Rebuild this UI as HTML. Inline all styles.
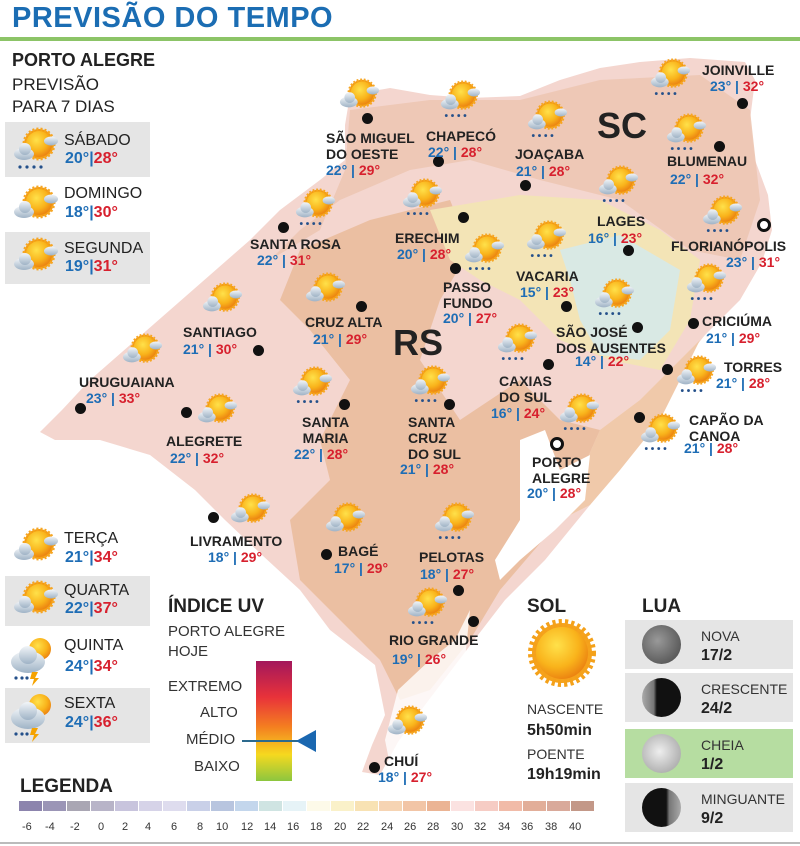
<!DOCTYPE html>
<html><head><meta charset="utf-8">
<style>
*{margin:0;padding:0;box-sizing:border-box}
body{width:800px;height:846px;background:#fff;position:relative;overflow:hidden;font-family:"Liberation Sans",sans-serif;color:#222}
.a{position:absolute;white-space:nowrap}
.t{font-weight:bold;font-size:29px;color:#1b6db3;letter-spacing:0.5px}
.c{font-weight:bold;font-size:14px;line-height:16px;color:#222}
.tp{font-weight:bold;font-size:14px;color:#1e6db5}
.tp b{color:#d7202e}
.day{position:absolute;left:5px;width:145px;background:#e5e5e5}
.dn{font-size:16px;color:#222}
.dt{font-size:16px;font-weight:bold;color:#1e6db5}
.dt b{color:#d7202e}
.dot{position:absolute;width:11px;height:11px;border-radius:50%;background:#111}
.mp{position:absolute;left:625px;width:168px;height:49px;background:#e5e5e5}
.moon{position:absolute;left:17px;top:5px;width:39px;height:39px;border-radius:50%;background:radial-gradient(circle at 40% 40%,#999,#444)}
.ml{position:absolute;left:76px;top:8px;font-size:14px;color:#333}
.mv{position:absolute;left:76px;top:27px;font-size:16px;font-weight:bold;color:#222}
</style></head><body>
<svg width="0" height="0" style="position:absolute">
<defs>
<radialGradient id="sg" cx="40%" cy="35%" r="70%"><stop offset="0" stop-color="#ffe14a"/><stop offset="0.6" stop-color="#f9b31b"/><stop offset="1" stop-color="#ea7e10"/></radialGradient>
<linearGradient id="cg" x1="0" y1="0" x2="0" y2="1"><stop offset="0" stop-color="#f2f5f8"/><stop offset="1" stop-color="#9fb3c6"/></linearGradient>
<symbol id="sun" viewBox="0 0 50 45">
<circle cx="28" cy="17" r="15" fill="#f39c12" stroke="#f6a623" stroke-width="3" stroke-dasharray="2 2"/>
<circle cx="28" cy="17" r="13" fill="url(#sg)"/>
<ellipse cx="40" cy="14" rx="7" ry="4.5" fill="url(#cg)"/>
<ellipse cx="13" cy="27" rx="10" ry="6" fill="url(#cg)"/><circle cx="14" cy="22" r="6" fill="url(#cg)"/>
</symbol>
<symbol id="rain" viewBox="0 0 50 45">
<use href="#sun" width="50" height="45"/>
<g fill="#24508a"><circle cx="9" cy="40" r="1.6"/><circle cx="16" cy="40" r="1.6"/><circle cx="23" cy="40" r="1.6"/><circle cx="30" cy="40" r="1.6"/></g>
</symbol>
<symbol id="storm" viewBox="0 0 50 50">
<circle cx="32" cy="13" r="11" fill="url(#sg)"/>
<ellipse cx="20" cy="26" rx="17" ry="11" fill="url(#cg)"/><circle cx="20" cy="19" r="9" fill="url(#cg)"/>
<polygon points="24,36 30,36 27,42 31,42 24,50 26,43 22,43" fill="#f5a300"/>
<g fill="#24508a"><circle cx="8" cy="42" r="1.6"/><circle cx="14" cy="42" r="1.6"/><circle cx="19" cy="42" r="1.6"/></g>
</symbol>
</defs></svg>

<div class="a t" style="left:12px;top:2px">PREVISÃO DO TEMPO</div>
<div class="a" style="left:0;top:37px;width:800px;height:4px;background:#8cc467"></div>

<!-- MAP -->
<svg class="a" style="left:0;top:0" width="800" height="846">
<path d="M350,95 L390,88 L430,95 L470,98 L520,96 L560,80 L600,68 L640,62 L690,58 L745,62 L755,80 L750,120 L755,160 L768,195 L772,230 L762,262 L740,300 L705,335 L675,372 L648,415 L620,460 L590,505 L545,560 L505,600 L478,635 L450,672 L425,705 L398,742 L380,775 L362,772 L372,745 L385,715 L380,690 L375,665 L330,630 L300,590 L262,555 L225,520 L195,490 L150,455 L100,440 L55,440 L40,432 L62,410 L90,380 L130,345 L170,310 L210,275 L250,240 L280,210 L320,180 L345,160 L345,125 Z" fill="#f4d6cf"/>
<path d="M350,110 L430,100 L520,100 L600,80 L700,75 L750,110 L760,200 L740,260 L690,250 L620,200 L540,180 L470,160 L410,170 L340,200 L300,230 L270,260 L320,230 L345,170 Z" fill="#edc6b2" opacity="0.9"/>
<path d="M300,250 L370,220 L450,200 L470,250 L440,300 L420,360 L460,420 L520,380 L560,420 L600,430 L560,520 L500,590 L470,640 L430,690 L400,700 L380,660 L340,620 L300,580 L290,520 L330,480 L320,440 L350,380 L310,330 L280,300 Z" fill="#ebbfa2"/>
<path d="M600,430 L640,400 L680,360 L700,340 L660,420 L620,470 L590,505 L560,520 Z" fill="#f0c9aa"/>
<path d="M430,210 L520,195 L600,200 L660,230 L700,260 L690,320 L660,370 L610,360 L560,340 L520,300 L480,280 L450,260 Z" fill="#f3e4b6"/>
<path d="M560,250 L620,235 L680,270 L670,330 L640,360 L600,355 L580,320 L570,280 Z" fill="#d9e9e4"/>
<path d="M520,440 L545,430 L560,470 L590,455 L585,500 L555,530 L520,560 L500,580 L495,560 L520,520 Z" fill="#fff"/>
<path d="M398,690 L430,660 L455,640 L470,610 L465,660 L440,690 L410,730 L390,765 L385,740 Z" fill="#fff" opacity="0.8"/>
</svg>
<div class="a" style="left:597px;top:105px;font-size:36px;font-weight:bold;color:#222">SC</div>
<div class="a" style="left:393px;top:322px;font-size:36px;font-weight:bold;color:#222">RS</div>

<!-- cities -->
<div class="dot" style="left:362px;top:113px"></div>
<div class="a c" style="left:326px;top:130px">SÃO MIGUEL<br>DO OESTE</div><div class="a tp" style="left:326px;top:162px">22° | <b>29°</b></div>
<svg class="a" style="left:337px;top:78px" width="45" height="40"><use href="#sun"/></svg>

<div class="dot" style="left:433px;top:156px"></div>
<div class="a c" style="left:426px;top:128px">CHAPECÓ</div><div class="a tp" style="left:428px;top:144px">22° | <b>28°</b></div>
<svg class="a" style="left:438px;top:80px" width="45" height="40"><use href="#rain"/></svg>

<div class="dot" style="left:520px;top:180px"></div>
<div class="a c" style="left:515px;top:146px">JOAÇABA</div><div class="a tp" style="left:516px;top:163px">21° | <b>28°</b></div>
<svg class="a" style="left:525px;top:100px" width="45" height="40"><use href="#rain"/></svg>

<div class="dot" style="left:737px;top:98px"></div>
<div class="a c" style="left:702px;top:62px">JOINVILLE</div><div class="a tp" style="left:710px;top:78px">23° | <b>32°</b></div>
<svg class="a" style="left:648px;top:58px" width="45" height="40"><use href="#rain"/></svg>

<div class="dot" style="left:714px;top:141px"></div>
<div class="a c" style="left:667px;top:153px">BLUMENAU</div><div class="a tp" style="left:670px;top:171px">22° | <b>32°</b></div>
<svg class="a" style="left:664px;top:113px" width="45" height="40"><use href="#rain"/></svg>

<div class="dot" style="left:623px;top:245px"></div>
<div class="a c" style="left:597px;top:213px">LAGES</div><div class="a tp" style="left:588px;top:230px">16° | <b>23°</b></div>
<svg class="a" style="left:596px;top:165px" width="45" height="40"><use href="#rain"/></svg>

<div class="a" style="left:757px;top:218px;width:14px;height:14px;border-radius:50%;border:3px solid #111;background:#fff"></div>
<div class="a c" style="left:671px;top:238px">FLORIANÓPOLIS</div><div class="a tp" style="left:726px;top:254px">23° | <b>31°</b></div>
<svg class="a" style="left:700px;top:195px" width="45" height="40"><use href="#rain"/></svg>

<div class="dot" style="left:458px;top:212px"></div>
<div class="a c" style="left:395px;top:230px">ERECHIM</div><div class="a tp" style="left:397px;top:246px">20° | <b>28°</b></div>
<svg class="a" style="left:400px;top:178px" width="45" height="40"><use href="#rain"/></svg>

<div class="dot" style="left:278px;top:222px"></div>
<div class="a c" style="left:250px;top:236px">SANTA ROSA</div><div class="a tp" style="left:257px;top:252px">22° | <b>31°</b></div>
<svg class="a" style="left:293px;top:188px" width="45" height="40"><use href="#rain"/></svg>

<div class="dot" style="left:561px;top:301px"></div>
<div class="a c" style="left:516px;top:268px">VACARIA</div><div class="a tp" style="left:520px;top:284px">15° | <b>23°</b></div>
<svg class="a" style="left:524px;top:220px" width="45" height="40"><use href="#rain"/></svg>

<div class="dot" style="left:450px;top:263px"></div>
<div class="a c" style="left:443px;top:279px">PASSO<br>FUNDO</div><div class="a tp" style="left:443px;top:310px">20° | <b>27°</b></div>
<svg class="a" style="left:462px;top:233px" width="45" height="40"><use href="#rain"/></svg>

<div class="dot" style="left:253px;top:345px"></div>
<div class="a c" style="left:183px;top:324px">SANTIAGO</div><div class="a tp" style="left:183px;top:341px">21° | <b>30°</b></div>
<svg class="a" style="left:200px;top:282px" width="45" height="40"><use href="#sun"/></svg>

<div class="dot" style="left:356px;top:301px"></div>
<div class="a c" style="left:305px;top:314px">CRUZ ALTA</div><div class="a tp" style="left:313px;top:331px">21° | <b>29°</b></div>
<svg class="a" style="left:303px;top:272px" width="45" height="40"><use href="#sun"/></svg>

<div class="dot" style="left:632px;top:322px"></div>
<div class="a c" style="left:556px;top:324px">SÃO JOSÉ<br>DOS AUSENTES</div><div class="a tp" style="left:575px;top:353px">14° | <b>22°</b></div>
<svg class="a" style="left:592px;top:278px" width="45" height="40"><use href="#rain"/></svg>

<div class="dot" style="left:688px;top:318px"></div>
<div class="a c" style="left:702px;top:313px">CRICIÚMA</div><div class="a tp" style="left:706px;top:330px">21° | <b>29°</b></div>
<svg class="a" style="left:684px;top:263px" width="45" height="40"><use href="#rain"/></svg>

<div class="dot" style="left:75px;top:403px"></div>
<div class="a c" style="left:79px;top:374px">URUGUAIANA</div><div class="a tp" style="left:86px;top:390px">23° | <b>33°</b></div>
<svg class="a" style="left:120px;top:333px" width="45" height="40"><use href="#sun"/></svg>

<div class="dot" style="left:181px;top:407px"></div>
<div class="a c" style="left:166px;top:433px">ALEGRETE</div><div class="a tp" style="left:170px;top:450px">22° | <b>32°</b></div>
<svg class="a" style="left:195px;top:393px" width="45" height="40"><use href="#sun"/></svg>

<div class="dot" style="left:339px;top:399px"></div>
<div class="a c" style="left:302px;top:414px;text-align:center">SANTA<br>MARIA</div><div class="a tp" style="left:294px;top:446px">22° | <b>28°</b></div>
<svg class="a" style="left:290px;top:366px" width="45" height="40"><use href="#rain"/></svg>

<div class="dot" style="left:444px;top:399px"></div>
<div class="a c" style="left:408px;top:414px">SANTA<br>CRUZ<br>DO SUL</div><div class="a tp" style="left:400px;top:461px">21° | <b>28°</b></div>
<svg class="a" style="left:408px;top:365px" width="45" height="40"><use href="#rain"/></svg>

<div class="dot" style="left:543px;top:359px"></div>
<div class="a c" style="left:499px;top:373px">CAXIAS<br>DO SUL</div><div class="a tp" style="left:491px;top:405px">16° | <b>24°</b></div>
<svg class="a" style="left:495px;top:323px" width="45" height="40"><use href="#rain"/></svg>

<div class="dot" style="left:662px;top:364px"></div>
<div class="a c" style="left:724px;top:359px">TORRES</div><div class="a tp" style="left:716px;top:375px">21° | <b>28°</b></div>
<svg class="a" style="left:674px;top:355px" width="45" height="40"><use href="#rain"/></svg>

<div class="dot" style="left:634px;top:412px"></div>
<div class="a c" style="left:689px;top:412px">CAPÃO DA<br>CANOA</div><div class="a tp" style="left:684px;top:440px">21° | <b>28°</b></div>
<svg class="a" style="left:638px;top:413px" width="45" height="40"><use href="#rain"/></svg>

<div class="a" style="left:550px;top:437px;width:14px;height:14px;border-radius:50%;border:3px solid #111;background:#fff"></div>
<div class="a c" style="left:532px;top:454px">PORTO<br>ALEGRE</div><div class="a tp" style="left:527px;top:485px">20° | <b>28°</b></div>
<svg class="a" style="left:557px;top:393px" width="45" height="40"><use href="#rain"/></svg>

<div class="dot" style="left:208px;top:512px"></div>
<div class="a c" style="left:190px;top:533px">LIVRAMENTO</div><div class="a tp" style="left:208px;top:549px">18° | <b>29°</b></div>
<svg class="a" style="left:228px;top:493px" width="45" height="40"><use href="#sun"/></svg>

<div class="dot" style="left:321px;top:549px"></div>
<div class="a c" style="left:338px;top:543px">BAGÉ</div><div class="a tp" style="left:334px;top:560px">17° | <b>29°</b></div>
<svg class="a" style="left:323px;top:502px" width="45" height="40"><use href="#sun"/></svg>

<div class="dot" style="left:453px;top:585px"></div>
<div class="a c" style="left:419px;top:549px">PELOTAS</div><div class="a tp" style="left:420px;top:566px">18° | <b>27°</b></div>
<svg class="a" style="left:432px;top:502px" width="45" height="40"><use href="#rain"/></svg>

<div class="dot" style="left:468px;top:616px"></div>
<div class="a c" style="left:389px;top:632px">RIO GRANDE</div><div class="a tp" style="left:392px;top:651px">19° | <b>26°</b></div>
<svg class="a" style="left:405px;top:587px" width="45" height="40"><use href="#rain"/></svg>

<div class="dot" style="left:369px;top:762px"></div>
<div class="a c" style="left:384px;top:753px">CHUÍ</div><div class="a tp" style="left:378px;top:769px">18° | <b>27°</b></div>
<svg class="a" style="left:385px;top:705px" width="45" height="40"><use href="#sun"/></svg>

<!-- left panel -->
<div class="a" style="left:12px;top:50px;font-size:18px;font-weight:bold;color:#222">PORTO ALEGRE</div>
<div class="a" style="left:12px;top:74px;font-size:17px;line-height:22px;color:#222">PREVISÃO<br>PARA 7 DIAS</div>

<div class="day" style="top:122px;height:55px"></div>
<svg class="a" style="left:10px;top:127px" width="52" height="45"><use href="#rain"/></svg>
<div class="a dn" style="left:64px;top:132px">SÁBADO</div><div class="a dt" style="left:65px;top:150px">20°|<b>28°</b></div>

<svg class="a" style="left:10px;top:185px" width="52" height="45"><use href="#sun"/></svg>
<div class="a dn" style="left:64px;top:185px">DOMINGO</div><div class="a dt" style="left:65px;top:204px">18°|<b>30°</b></div>

<div class="day" style="top:232px;height:52px"></div>
<svg class="a" style="left:10px;top:237px" width="52" height="45"><use href="#sun"/></svg>
<div class="a dn" style="left:64px;top:240px">SEGUNDA</div><div class="a dt" style="left:65px;top:258px">19°|<b>31°</b></div>

<svg class="a" style="left:10px;top:527px" width="52" height="45"><use href="#sun"/></svg>
<div class="a dn" style="left:64px;top:530px">TERÇA</div><div class="a dt" style="left:65px;top:549px">21°|<b>34°</b></div>

<div class="day" style="top:576px;height:50px"></div>
<svg class="a" style="left:10px;top:580px" width="52" height="45"><use href="#sun"/></svg>
<div class="a dn" style="left:64px;top:582px">QUARTA</div><div class="a dt" style="left:65px;top:600px">22°|<b>37°</b></div>

<svg class="a" style="left:8px;top:636px" width="50" height="50"><use href="#storm"/></svg>
<div class="a dn" style="left:64px;top:637px">QUINTA</div><div class="a dt" style="left:65px;top:658px">24°|<b>34°</b></div>

<div class="day" style="top:688px;height:55px"></div>
<svg class="a" style="left:8px;top:692px" width="50" height="50"><use href="#storm"/></svg>
<div class="a dn" style="left:64px;top:695px">SEXTA</div><div class="a dt" style="left:65px;top:714px">24°|<b>36°</b></div>

<!-- UV -->
<div class="a" style="left:168px;top:596px;font-size:19px;font-weight:bold;color:#222">ÍNDICE UV</div>
<div class="a" style="left:168px;top:622px;font-size:15px;line-height:20px;color:#333">PORTO ALEGRE<br>HOJE</div>
<div class="a" style="left:256px;top:661px;width:36px;height:120px;background:linear-gradient(#a3175c,#e8323a 30%,#f47f20 55%,#f6d91f 78%,#8cc63f)"></div>
<div class="a" style="left:168px;top:678px;font-size:15px;color:#333">EXTREMO</div>
<div class="a" style="left:200px;top:704px;font-size:15px;color:#333">ALTO</div>
<div class="a" style="left:186px;top:731px;font-size:15px;color:#333">MÉDIO</div>
<div class="a" style="left:194px;top:758px;font-size:15px;color:#333">BAIXO</div>
<div class="a" style="left:242px;top:740px;width:56px;height:2px;background:#2c6a8e"></div>
<svg class="a" style="left:296px;top:729px" width="22" height="24"><polygon points="0,12 20,1 20,23" fill="#1a67b0"/></svg>

<!-- SOL -->
<div class="a" style="left:527px;top:596px;font-size:19px;font-weight:bold;color:#222">SOL</div>
<svg class="a" style="left:527px;top:618px" width="70" height="70"><circle cx="35" cy="35" r="30" fill="#f6a21c" stroke="#f4a11a" stroke-width="8" stroke-dasharray="3 3"/><circle cx="35" cy="35" r="26" fill="url(#sg)"/></svg>
<div class="a" style="left:527px;top:701px;font-size:14px;color:#333">NASCENTE</div>
<div class="a" style="left:527px;top:722px;font-size:16px;font-weight:bold;color:#222">5h50min</div>
<div class="a" style="left:527px;top:746px;font-size:14px;color:#333">POENTE</div>
<div class="a" style="left:527px;top:766px;font-size:16px;font-weight:bold;color:#222">19h19min</div>

<!-- LUA -->
<div class="a" style="left:642px;top:596px;font-size:19px;font-weight:bold;color:#222">LUA</div>
<div class="mp" style="top:620px"><div class="moon"></div><div class="ml">NOVA</div><div class="mv">17/2</div></div>
<div class="mp" style="top:673px"><div class="moon" style="background:linear-gradient(90deg,#aaa 0,#777 30%,#111 38%,#111)"></div><div class="ml">CRESCENTE</div><div class="mv">24/2</div></div>
<div class="mp" style="top:729px;background:#b6dda1"><div class="moon" style="background:radial-gradient(circle at 45% 45%,#eee,#999)"></div><div class="ml">CHEIA</div><div class="mv">1/2</div></div>
<div class="mp" style="top:783px"><div class="moon" style="background:linear-gradient(90deg,#111,#111 62%,#777 70%,#aaa)"></div><div class="ml">MINGUANTE</div><div class="mv">9/2</div></div>

<!-- LEGENDA -->
<div class="a" style="left:20px;top:776px;font-size:19px;font-weight:bold;color:#222">LEGENDA</div>
<div class="a" style="left:19px;top:801px;display:flex;gap:1px">
<div style="width:23px;height:10px;background:#8c84ad"></div><div style="width:23px;height:10px;background:#9b95b6"></div><div style="width:23px;height:10px;background:#a9a6b3"></div><div style="width:23px;height:10px;background:#b8b4c8"></div><div style="width:23px;height:10px;background:#c8c4dd"></div><div style="width:23px;height:10px;background:#d6d3e8"></div><div style="width:23px;height:10px;background:#dedcee"></div><div style="width:23px;height:10px;background:#c9d0e8"></div><div style="width:23px;height:10px;background:#b8c5df"></div><div style="width:23px;height:10px;background:#c3d6ec"></div><div style="width:23px;height:10px;background:#cfe4e2"></div><div style="width:23px;height:10px;background:#e6f3f7"></div><div style="width:23px;height:10px;background:#fdfae9"></div><div style="width:23px;height:10px;background:#faf1c9"></div><div style="width:23px;height:10px;background:#f8e2b3"></div><div style="width:23px;height:10px;background:#f6d4b3"></div><div style="width:23px;height:10px;background:#f2c5a6"></div><div style="width:23px;height:10px;background:#ebb494"></div><div style="width:23px;height:10px;background:#fbe2e1"></div><div style="width:23px;height:10px;background:#f6ccc4"></div><div style="width:23px;height:10px;background:#f1bba8"></div><div style="width:23px;height:10px;background:#e2ae99"></div><div style="width:23px;height:10px;background:#d9a99a"></div><div style="width:23px;height:10px;background:#c39888"></div>
</div>
<div class="a" style="left:0;top:821px;width:600px;font-size:11px;color:#333">
<span class="a" style="left:22px">-6</span><span class="a" style="left:45px">-4</span><span class="a" style="left:70px">-2</span><span class="a" style="left:98px">0</span><span class="a" style="left:122px">2</span><span class="a" style="left:145px">4</span><span class="a" style="left:171px">6</span><span class="a" style="left:197px">8</span><span class="a" style="left:216px">10</span><span class="a" style="left:241px">12</span><span class="a" style="left:264px">14</span><span class="a" style="left:287px">16</span><span class="a" style="left:310px">18</span><span class="a" style="left:334px">20</span><span class="a" style="left:357px">22</span><span class="a" style="left:381px">24</span><span class="a" style="left:404px">26</span><span class="a" style="left:427px">28</span><span class="a" style="left:451px">30</span><span class="a" style="left:474px">32</span><span class="a" style="left:498px">34</span><span class="a" style="left:521px">36</span><span class="a" style="left:545px">38</span><span class="a" style="left:569px">40</span>
</div>
<div class="a" style="left:0;top:842px;width:800px;height:2px;background:#bbb"></div>
</body></html>
